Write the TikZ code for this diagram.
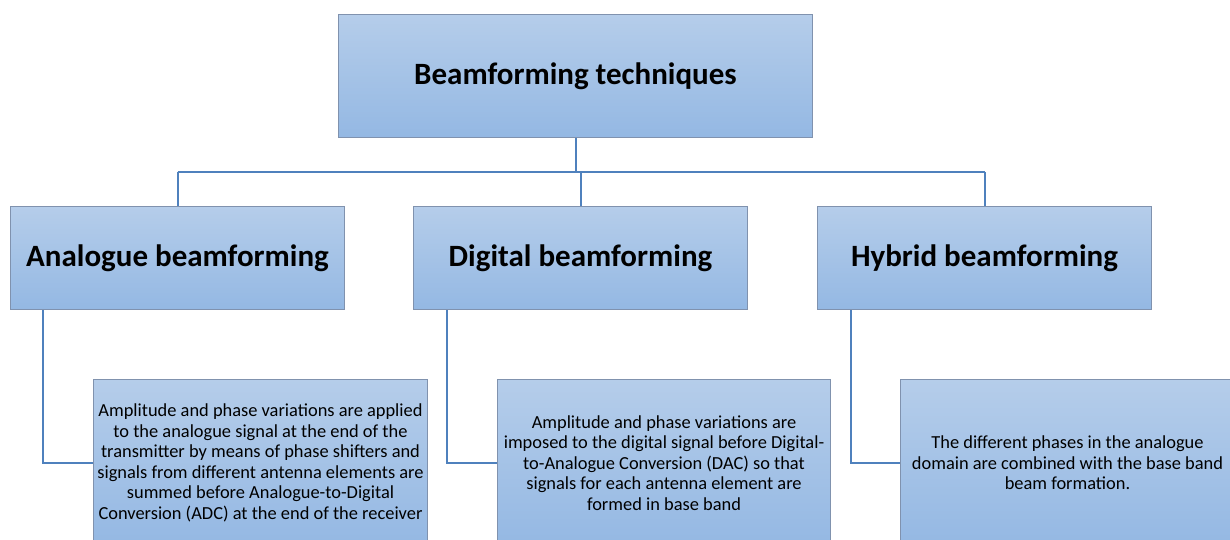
\documentclass[tikz,border=0pt]{standalone}
\usepackage{fontspec}
\setmainfont{Carlito}
\definecolor{boxtop}{RGB}{181,205,234}
\definecolor{boxbot}{RGB}{148,184,227}
\definecolor{boxline}{RGB}{128,146,174}
\definecolor{linkc}{RGB}{79,129,189}
\begin{document}
\begin{tikzpicture}[x=1pt,y=-1pt,
  box/.style={draw=boxline,line width=1pt,top color=boxtop,bottom color=boxbot,
    inner sep=0pt,align=center,anchor=north west},
  title/.style={box,font=\bfseries\fontsize{31}{36}\selectfont},
  desc/.style={box,font=\fontsize{18.4}{20.5}\selectfont},
  link/.style={draw=linkc,line width=2pt}]
\clip (0,0) rectangle (1230,540);
\fill[white] (0,0) rectangle (1230,540);
\node[title,minimum width=474pt,minimum height=123pt] (top) at (338,14) {Beamforming techniques};
\node[title,minimum width=334pt,minimum height=103pt] (ana) at (10,206) {Analogue beamforming};
\node[title,minimum width=334pt,minimum height=103pt] (dig) at (413,206) {Digital beamforming};
\node[title,minimum width=334pt,minimum height=103pt] (hyb) at (817,206) {Hybrid beamforming};
\node[desc,minimum width=334pt,minimum height=167pt] (anad) at (93,379) {Amplitude and phase variations are applied\\to the analogue signal at the end of the\\transmitter by means of phase shifters and\\signals from different antenna elements are\\summed before Analogue-to-Digital\\Conversion (ADC) at the end of the receiver};
\node[desc,minimum width=333pt,minimum height=167pt] (digd) at (497,379) {Amplitude and phase variations are\\imposed to the digital signal before Digital-\\to-Analogue Conversion (DAC) so that\\signals for each antenna element are\\formed in base band};
\node[desc,minimum width=334pt,minimum height=167pt] (hybd) at (900,379) {The different phases in the analogue\\domain are combined with the base band\\beam formation.};
\coordinate (bus) at (576,172);
\draw[link] (top.south) -- (top.south |- bus);
\draw[link] (ana.north |- bus) -- (hyb.north |- bus);
\draw[link] (ana.north) -- (ana.north |- bus);
\draw[link] (dig.north) -- (dig.north |- bus);
\draw[link] (hyb.north) -- (hyb.north |- bus);
\draw[link] ([xshift=33pt]ana.south west) |- (anad.west);
\draw[link] ([xshift=34pt]dig.south west) |- (digd.west);
\draw[link] ([xshift=34pt]hyb.south west) |- (hybd.west);
\end{tikzpicture}
\end{document}
